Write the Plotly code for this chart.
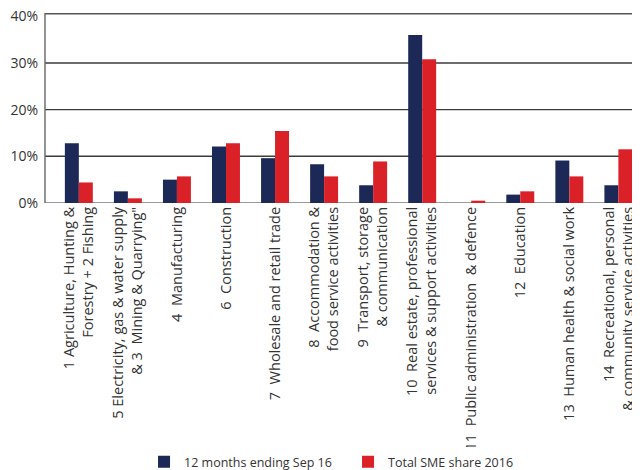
import plotly.graph_objects as go

# Sector labels, as printed under the axis
sectors = [
    "1 Agriculture, Hunting &<br>Forestry + 2 Fishing",
    "5 Electricity, gas & water supply<br>& 3  Mining & Quarrying\"",
    "4  Manufacturing",
    "6  Construction",
    "7  Wholesale and retail trade",
    "8  Accommodation &<br>food service activities",
    "9  Transport, storage<br>& communication",
    "10  Real estate, professional<br>services & support activities",
    "11  Public administration  & defence",
    "12  Education",
    "13  Human health & social work",
    "14  Recreational, personal<br>& community service activities",
]

# Shares in percent
last_12_months = [12.8, 2.5, 5.0, 12.1, 9.6, 8.3, 3.8, 36.0, 0.0, 1.8, 9.1, 3.8]
sme_share_2016 = [4.4, 1.0, 5.7, 12.8, 15.4, 5.7, 8.9, 30.8, 0.5, 2.5, 5.7, 11.5]

y_ticks = [0, 10, 20, 30, 40]
y_tick_labels = ["0%", "10%", "20%", "30%", "40%"]

NAVY = "#1c2956"
RED = "#da2128"
FONT = "Open Sans, Liberation Sans, sans-serif"
Y_TOP = 40.7

fig = go.Figure()
fig.add_trace(go.Bar(x=sectors, y=last_12_months, name="12 months ending Sep 16",
                     marker=dict(color=NAVY, line_width=0)))
fig.add_trace(go.Bar(x=sectors, y=sme_share_2016, name="Total SME share 2016",
                     marker=dict(color=RED, line_width=0)))

# strokes don't show up in the render, so grid / frame are thin filled rects
def hline(yval, color, px, lo=None, hi=None):
    fig.add_shape(type="rect", xref="paper", yref="y", x0=0, x1=1,
                  ysizemode="pixel", yanchor=yval,
                  y0=-px / 2 if lo is None else lo, y1=px / 2 if hi is None else hi,
                  fillcolor=color, line_width=0, layer="below")

def vline(xpaper, color, px):
    fig.add_shape(type="rect", xref="paper", yref="paper", y0=0, y1=1,
                  xsizemode="pixel", xanchor=xpaper, x0=-px / 2, x1=px / 2,
                  fillcolor=color, line_width=0, layer="below")

for v in y_ticks[1:-1]:
    hline(v, "#3c3c3c", 1.4)
hline(Y_TOP, "#555555", 1.6, lo=-1.6, hi=0)   # top frame carries the 40% label
hline(0, "#9a9a9a", 2)
vline(0, "#666666", 1.4)
vline(1, "#777777", 1.4)

# page body has an 8px margin, so the figure is sized to fill the rest of the window
fig.update_layout(
    width=632, height=462,
    margin=dict(l=37, r=2, t=5, b=267, autoexpand=False),
    paper_bgcolor="white", plot_bgcolor="white",
    barmode="group", bargap=0.43, bargroupgap=0,
    font=dict(family=FONT, color="#333333", size=12),
    showlegend=True,
    legend=dict(orientation="h", x=0.167, xanchor="left", y=-1.364, yanchor="middle",
                font=dict(size=12.5, color="#333333"), traceorder="normal",
                entrywidth=159, entrywidthmode="pixels"),
    yaxis=dict(
        range=[0, Y_TOP], tickmode="array", tickvals=y_ticks, ticktext=y_tick_labels,
        showgrid=False, showline=False, zeroline=False, ticklabelstandoff=6,
        ticklabeloverflow="allow",
        tickfont=dict(size=14, color="#333333"), automargin=False,
    ),
    xaxis=dict(
        range=[-0.69, 11.4],
        tickangle=-90, tickfont=dict(size=14.5, color="#333333"),
        showline=False, showgrid=False, automargin=False,
    ),
)

fig.write_html("out.html")
